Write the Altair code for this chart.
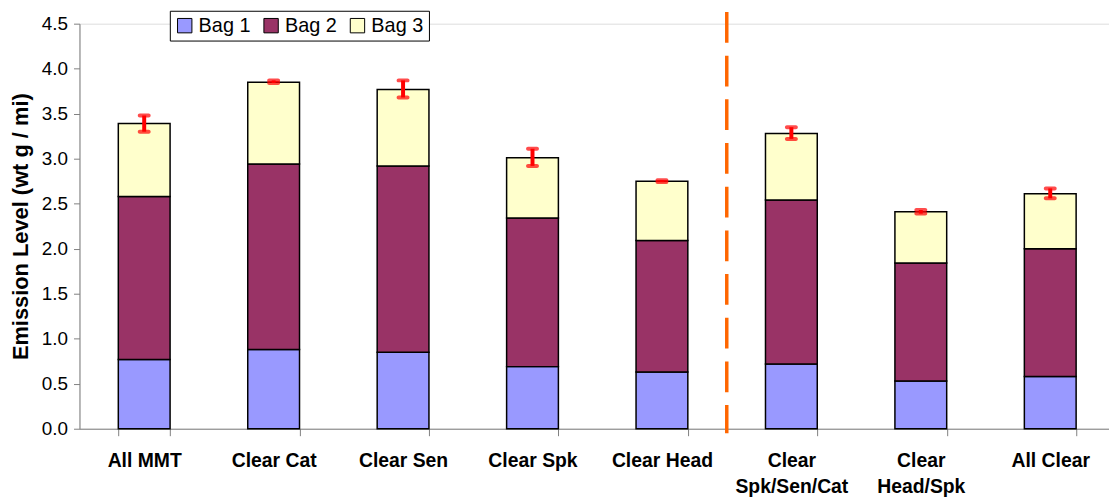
import altair as alt
import pandas as pd

categories = ["All MMT", "Clear Cat", "Clear Sen", "Clear Spk", "Clear Head",
              "Clear|Spk/Sen/Cat", "Clear|Head/Spk", "All Clear"]
series = ["Bag 1", "Bag 2", "Bag 3"]
colors = ["#9999FF", "#993366", "#FFFFCC"]
bag1 = [0.77, 0.88, 0.85, 0.69, 0.63, 0.72, 0.53, 0.58]
bag2 = [1.81, 2.06, 2.07, 1.65, 1.46, 1.82, 1.31, 1.42]
bag3 = [0.81, 0.91, 0.85, 0.67, 0.66, 0.74, 0.57, 0.61]
err_low = [3.30, 3.84, 3.68, 2.92, 2.74, 3.22, 2.39, 2.56]
err_high = [3.48, 3.87, 3.87, 3.11, 2.76, 3.35, 2.43, 2.67]
y_ticks = [0.0, 0.5, 1.0, 1.5, 2.0, 2.5, 3.0, 3.5, 4.0, 4.5]
divider_cat = "Clear|Spk/Sen/Cat"
divider_span = [4.63, -0.05]

rows = []
for i, c in enumerate(categories):
    for k, (s, vals) in enumerate(zip(series, [bag1, bag2, bag3])):
        rows.append({"cat": c, "bag": s, "value": vals[i], "ord": k})
df = pd.DataFrame(rows)
err = pd.DataFrame({"cat": categories, "lo": err_low, "hi": err_high})

FONT = "Liberation Sans"
xscale = alt.Scale(domain=categories, paddingInner=0.6, paddingOuter=0.3)
yscale = alt.Scale(domain=[0, 4.5], nice=False)

xaxis = alt.Axis(title=None, labelAngle=0, labelExpr="split(datum.label, '|')",
                 labelFont=FONT, labelFontWeight="bold", labelFontSize=19.5,
                 labelColor="black", labelPadding=16, labelLineHeight=26,
                 tickBand="extent", tickSize=7, domainColor="#808080",
                 tickColor="#808080", labelBaseline="top")
yaxis = alt.Axis(values=y_ticks, format=".1f", title="Emission Level (wt g / mi)",
                 titleFont=FONT, titleFontSize=22, titleFontWeight="bold",
                 titleColor="black", titlePadding=9,
                 labelFont=FONT, labelFontSize=19, labelColor="black",
                 labelPadding=6, tickSize=6, grid=False,
                 domainColor="#808080", tickColor="#808080")

bars = alt.Chart(df).mark_bar(stroke="black", strokeWidth=1.5).encode(
    x=alt.X("cat:N", scale=xscale, axis=xaxis, sort=categories),
    y=alt.Y("value:Q", stack="zero", scale=yscale, axis=yaxis),
    color=alt.Color("bag:N", scale=alt.Scale(domain=series, range=colors),
                    legend=alt.Legend(title=None, orient="none", legendX=91, legendY=-13,
                                      direction="horizontal", symbolType="square",
                                      symbolSize=210, symbolStrokeColor="black",
                                      symbolStrokeWidth=1, labelFontSize=20,
                                      labelFont=FONT, labelColor="black",
                                      strokeColor="black", fillColor="white",
                                      padding=5, columnPadding=10, labelOffset=4)),
    order=alt.Order("ord:Q", sort="ascending"),
)

err_rule = alt.Chart(err).mark_rule(color="red", strokeWidth=4).encode(
    x=alt.X("cat:N", sort=categories),
    y="lo:Q",
    y2="hi:Q",
)
err_caps_lo = alt.Chart(err).mark_tick(color="red", thickness=4, size=13, cornerRadius=2).encode(
    x=alt.X("cat:N", sort=categories),
    y="lo:Q",
)
err_caps_hi = alt.Chart(err).mark_tick(color="red", thickness=4, size=13, cornerRadius=2).encode(
    x=alt.X("cat:N", sort=categories),
    y="hi:Q",
)

divider = alt.Chart(pd.DataFrame({"cat": [divider_cat], "y1": [divider_span[0]], "y2": [divider_span[1]]})).mark_rule(
    color="#FF6600", strokeWidth=3.5, strokeDash=[31, 13], xOffset=-39
).encode(
    x=alt.X("cat:N", sort=categories, bandPosition=0),
    y="y1:Q",
    y2="y2:Q",
)

chart = alt.layer(bars, err_rule, err_caps_lo, err_caps_hi, divider).properties(
    width=1043, height=408,
    autosize=alt.AutoSizeParams(type="none"),
    padding={"left": 72, "top": 14, "right": -6, "bottom": 70},
).configure_view(stroke=None).configure(font=FONT)

chart.save("out.html", embed_options={"renderer": "svg", "actions": False})
